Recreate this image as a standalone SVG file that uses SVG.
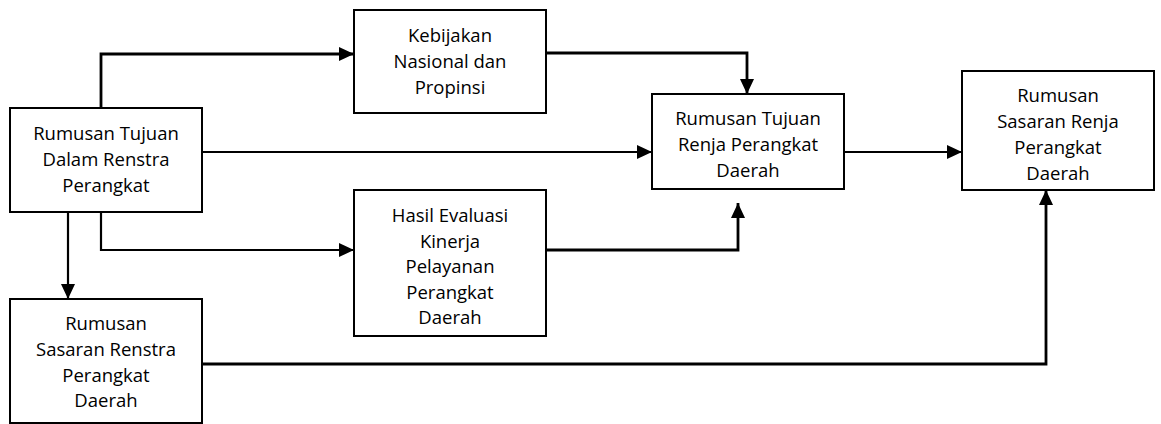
<svg xmlns="http://www.w3.org/2000/svg" width="1161" height="424" viewBox="0 0 1161 424">
<style>
.box{fill:#fff;stroke:#000;stroke-width:2}
.t{font-family:"Open Sans","Liberation Sans",sans-serif;font-size:18.5px;fill:#000;text-anchor:middle}
.c{fill:none;stroke:#000;stroke-width:2.2;stroke-linejoin:miter}
.ct{fill:none;stroke:#000;stroke-width:2.8}
</style>
<defs>
<marker id="ar" markerUnits="userSpaceOnUse" markerWidth="16" markerHeight="16" viewBox="0 0 16 16" refX="15" refY="8" orient="auto">
<path d="M0,1 L15,8 L0,15 Z" fill="#000"/>
</marker>
</defs>
<rect width="1161" height="424" fill="#fff"/>
<g id="connectors">
<path class="ct" d="M101,108 V54 H354" marker-end="url(#ar)"/>
<path class="c" d="M202,152 H652" marker-end="url(#ar)"/>
<path class="ct" d="M546,53 H747 V94" marker-end="url(#ar)"/>
<path class="ct" d="M546,250 H738 V203" marker-end="url(#ar)"/>
<path class="c" d="M68,212 V299" marker-end="url(#ar)"/>
<path class="c" d="M101,212 V250 H354" marker-end="url(#ar)"/>
<path class="c" d="M844,152 H962" marker-end="url(#ar)"/>
<path class="ct" d="M202,364 H1046 V190" marker-end="url(#ar)"/>
</g>
<g id="node-tujuan-renstra">
<rect class="box" x="10" y="108" width="192" height="104"/>
<text class="t" x="106" y="140">Rumusan Tujuan</text>
<text class="t" x="106" y="166">Dalam Renstra</text>
<text class="t" x="106" y="192">Perangkat</text>
</g>
<g id="node-kebijakan">
<rect class="box" x="354" y="10" width="192" height="103"/>
<text class="t" x="450" y="42">Kebijakan</text>
<text class="t" x="450" y="68">Nasional dan</text>
<text class="t" x="450" y="94">Propinsi</text>
</g>
<g id="node-hasil-evaluasi">
<rect class="box" x="354" y="190" width="192" height="146"/>
<text class="t" x="450" y="222">Hasil Evaluasi</text>
<text class="t" x="450" y="247.5">Kinerja</text>
<text class="t" x="450" y="273">Pelayanan</text>
<text class="t" x="450" y="298.5">Perangkat</text>
<text class="t" x="450" y="324">Daerah</text>
</g>
<g id="node-tujuan-renja">
<rect class="box" x="652" y="94" width="192" height="95"/>
<text class="t" x="748" y="125">Rumusan Tujuan</text>
<text class="t" x="748" y="151">Renja Perangkat</text>
<text class="t" x="748" y="177">Daerah</text>
</g>
<g id="node-sasaran-renja">
<rect class="box" x="962" y="71" width="192" height="119"/>
<text class="t" x="1058" y="102">Rumusan</text>
<text class="t" x="1058" y="128">Sasaran Renja</text>
<text class="t" x="1058" y="153.5">Perangkat</text>
<text class="t" x="1058" y="179.5">Daerah</text>
</g>
<g id="node-sasaran-renstra">
<rect class="box" x="10" y="299" width="192" height="124"/>
<text class="t" x="106" y="330">Rumusan</text>
<text class="t" x="106" y="356">Sasaran Renstra</text>
<text class="t" x="106" y="381.5">Perangkat</text>
<text class="t" x="106" y="407">Daerah</text>
</g>
</svg>
